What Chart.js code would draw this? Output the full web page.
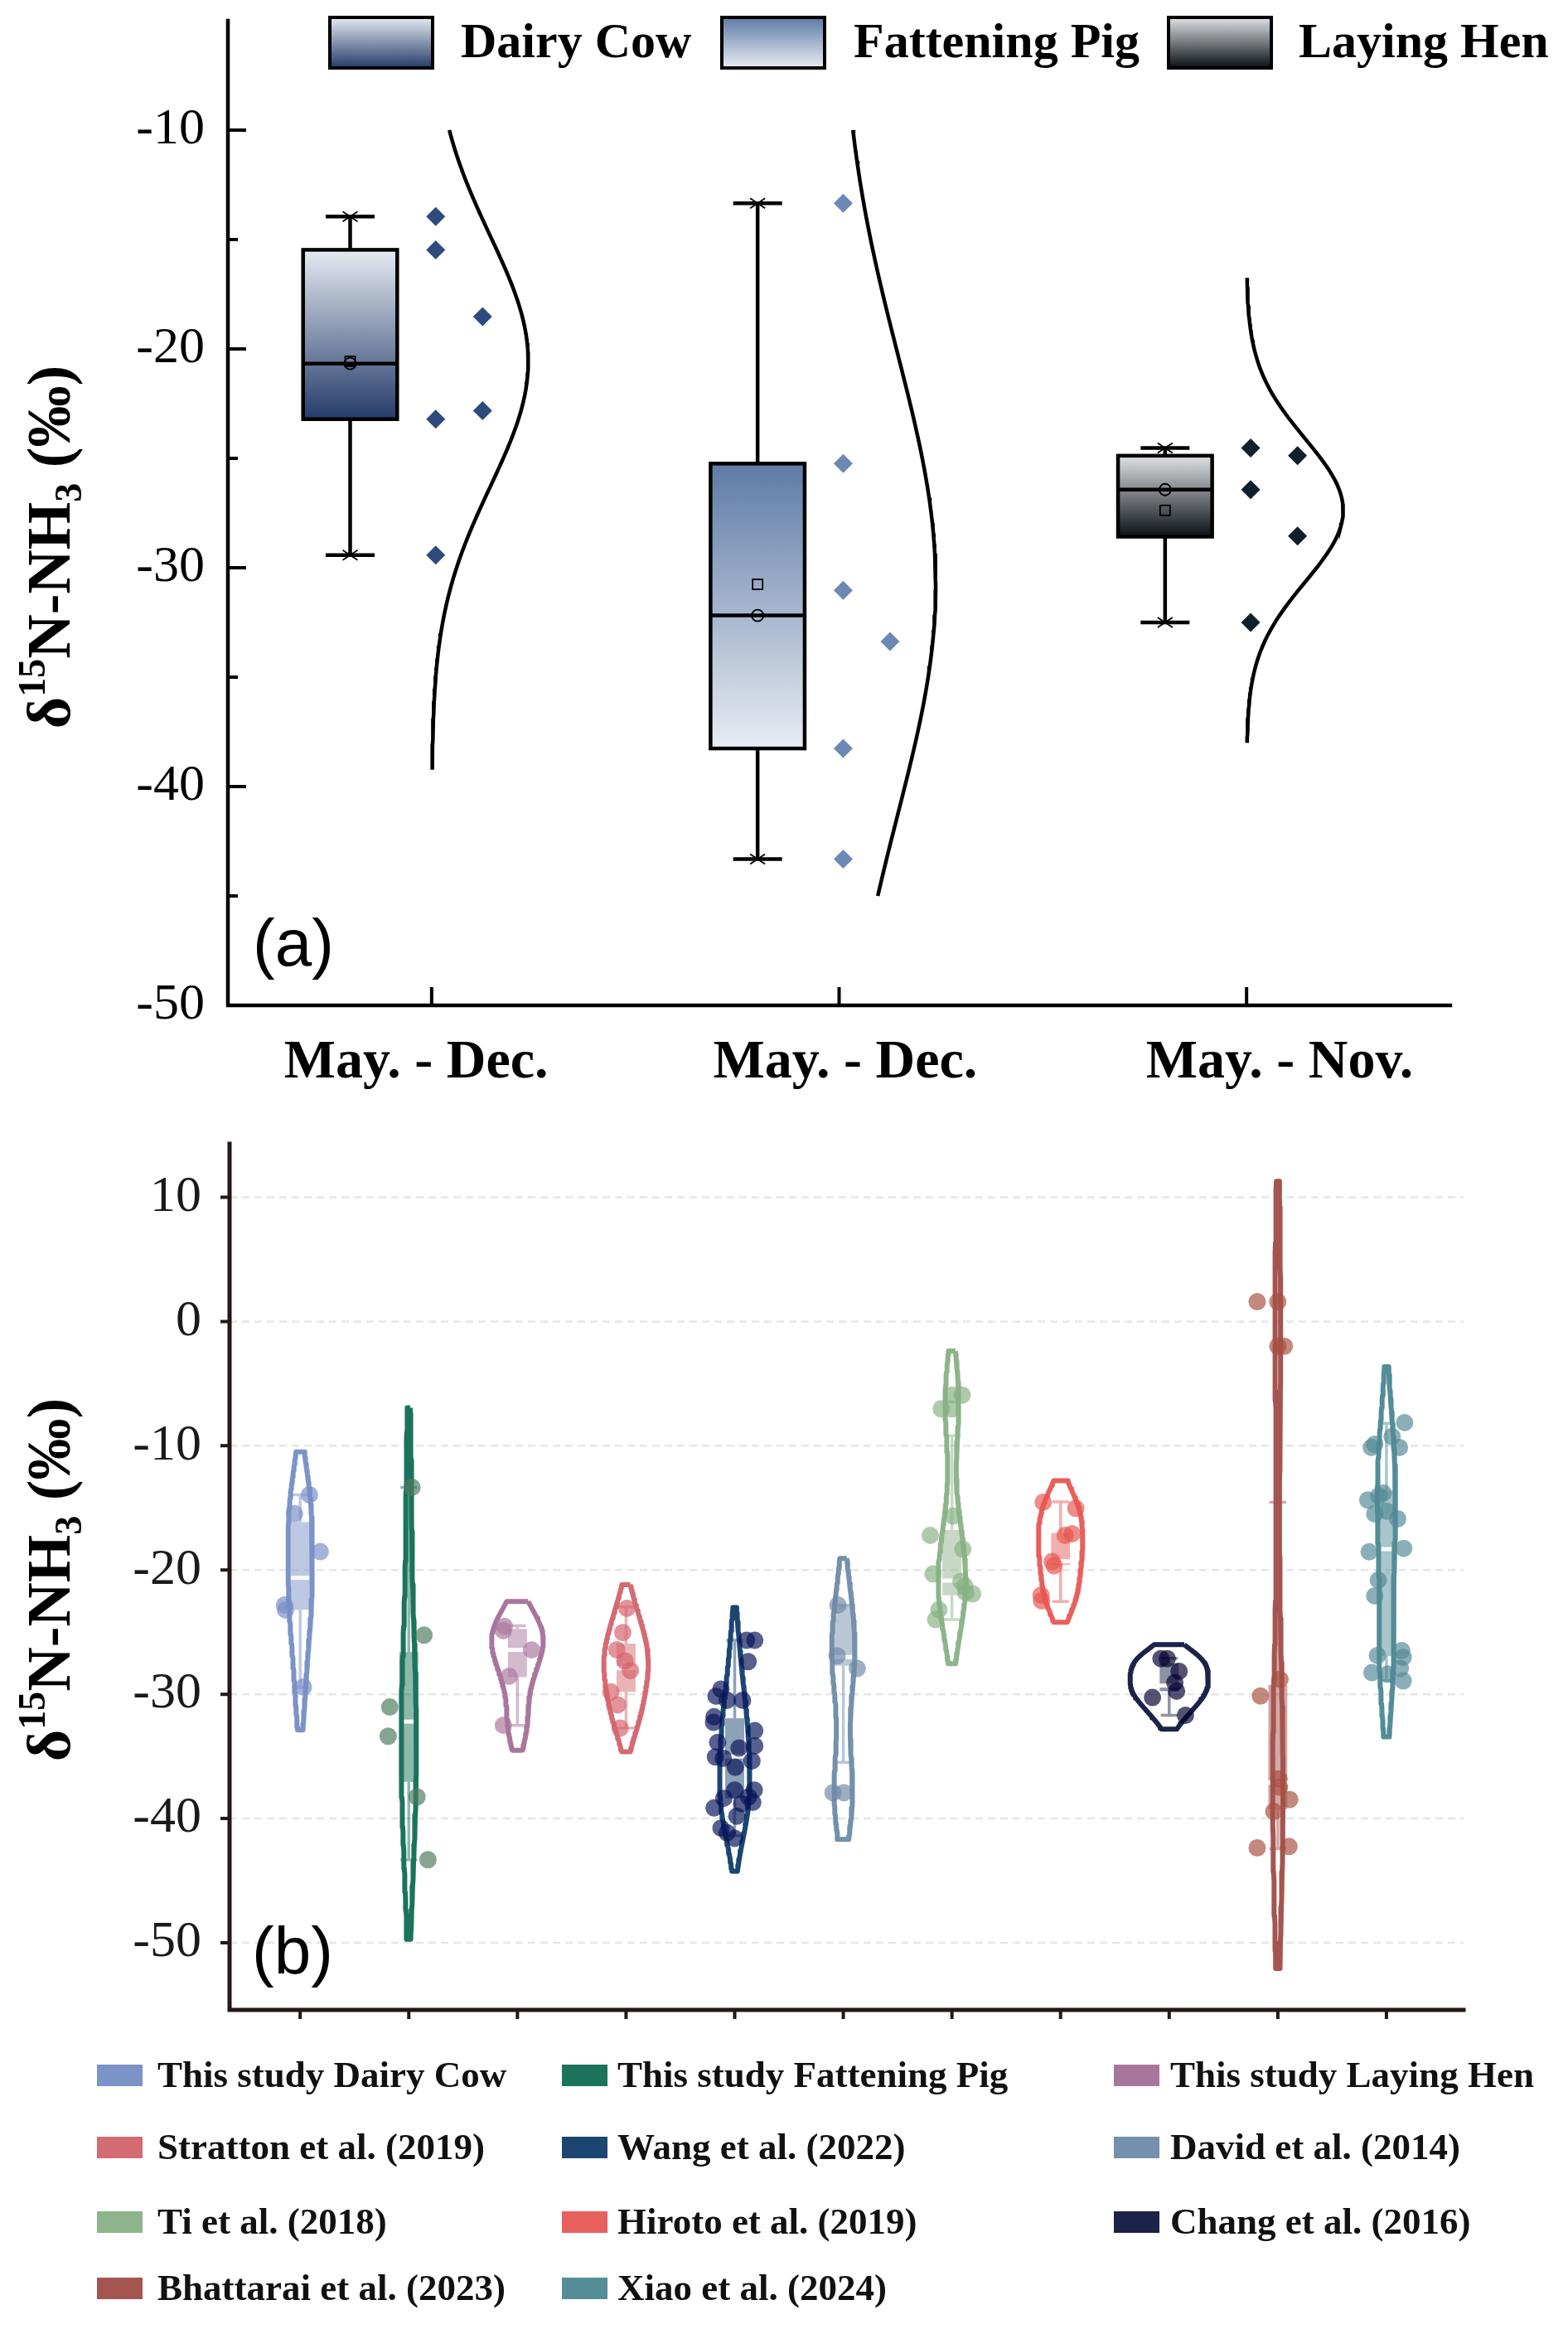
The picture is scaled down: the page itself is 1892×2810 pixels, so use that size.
<!DOCTYPE html>
<html>
<head>
<meta charset="utf-8">
<title>d15N-NH3</title>
<script src="https://cdn.jsdelivr.net/npm/chart.js@4.4.1/dist/chart.umd.min.js"></script>
<style>
  html, body { margin: 0; padding: 0; background: #ffffff; }
  #page { position: relative; width: 1892px; height: 2810px; overflow: hidden; background: #fff; }
  canvas { position: absolute; left: 0; }
  #panelA { top: 0; }
  #panelB { top: 1340px; }
</style>
</head>
<body>
<div id="page">
  <canvas id="panelA" width="1892" height="1340"></canvas>
  <canvas id="panelB" width="1892" height="1470"></canvas>
</div>
<script>
// ---------- panel (a) data ----------
const periodsA = ['May. - Dec.', 'May. - Dec.', 'May. - Nov.'];
const animalsA = ['Dairy Cow', 'Fattening Pig', 'Laying Hen'];
const yTicksA = [-50, -40, -30, -20, -10];
const yMinorA = [-45, -35, -25, -15];

const cowValues = [-13.95, -15.47, -18.52, -22.82, -23.21, -29.42];
const pigValues = [-13.34, -25.24, -31.03, -33.37, -38.26, -43.31];
const henValues = [-24.53, -24.88, -26.43, -28.55, -32.50];

// box stats [lower whisker, Q1, median, Q3, upper whisker]
const cowBoxA = [-29.42, -23.21, -20.67, -15.47, -13.95];
const pigBoxA = [-43.31, -38.26, -32.18, -25.24, -13.34];
const henBoxA = [-32.50, -28.58, -26.43, -24.88, -24.53];

// value span of the fitted normal curves [bottom, top]
const cowCurveSpan = [-39.23, -10.0];
const pigCurveSpan = [-45.0, -10.0];
const henCurveSpan = [-38.0, -16.75];

// ---------- panel (b) data ----------
const groupsB = ['This study Dairy Cow', 'This study Fattening Pig', 'This study Laying Hen',
  'Stratton et al. (2019)', 'Wang et al. (2022)', 'David et al. (2014)',
  'Ti et al. (2018)', 'Hiroto et al. (2019)', 'Chang et al. (2016)',
  'Bhattarai et al. (2023)', 'Xiao et al. (2024)'];
const yTicksB = [-50, -40, -30, -20, -10, 0, 10];

const strattonValues = [-23.09, -25.03, -26.42, -27.32, -28.1, -29.81, -30.85, -32.72];
const wangValues = [-25.66, -25.66, -27.37, -29.59, -30.15, -30.48, -30.48, -31.81, -32.26, -32.93,
  -33.88, -34.33, -34.15, -35.04, -35.15, -35.37, -35.88, -37.7, -37.7, -38.37,
  -38.26, -38.7, -39.15, -38.81, -39.81, -40.77, -41.15, -41.59];
const davidValues = [-22.81, -26.9, -27.92, -37.92, -37.92];
const tiValues = [-5.92, -5.92, -7.03, -7.03, -15.66, -17.21, -18.32, -20.32, -20.92, -21.3,
  -21.81, -21.92, -23.19, -23.99];
const hirotoValues = [-14.54, -15.03, -17.08, -17.21, -19.32, -19.66, -22.03, -22.48];
const changValues = [-27.13, -27.13, -28.15, -29.07, -29.75, -30.26, -31.69];
const bhattaraiValues = [1.59, 1.59, -1.99, -1.99, -28.8, -30.14, -36.8, -37.47, -38.47, -39.43, -42.36, -42.25];
const xiaoValues = [-8.14, -9.26, -9.88, -10.14, -10.14, -13.81, -14.03, -14.37, -15.26, -15.48,
  -15.88, -18.26, -18.54, -20.81, -22.08, -26.48, -26.88, -27.03, -27.92, -28.26, -28.37, -28.92];

// box stats [lower whisker, Q1, median, Q3, upper whisker]
const boxB = [
  [-29.45, -23.2, -20.63, -16.14, -13.95],
  [-43.32, -37.05, -32.2, -26.6, -13.34],
  [-32.5, -28.62, -26.43, -24.74, -24.48],
  [-32.72, -29.81, -27.9, -25.93, -22.96],
  [-41.37, -38.37, -35.0, -31.93, -25.66],
  [-35.48, -27.7, -27.0, -22.81, -22.81],
  [-23.99, -22.03, -20.85, -16.77, -9.19],
  [-22.54, -19.6, -19.3, -17.03, -14.52],
  [-31.69, -29.75, -29.3, -27.5, -27.1],
  [-42.43, -39.25, -37.1, -29.25, -14.54],
  [-28.9, -26.92, -18.32, -13.59, -8.19]
];
// kernel bandwidth of each violin
const bandwidthB = [3.45, 6.4, 2.0, 1.9, 2.65, 3.75, 3.55, 1.73, 1.12, 9.7, 4.5];

// ---------- layout / style ----------
const SERIF = '"Liberation Serif", "Times New Roman", serif';
const SANS = '"Liberation Sans", Arial, sans-serif';

const valuesA = [cowValues, pigValues, henValues];
const boxesA = [cowBoxA, pigBoxA, henBoxA];
const spansA = [cowCurveSpan, pigCurveSpan, henCurveSpan];
const pointColumnA = [[0, 0, 1, 1, 0, 0], [0, 0, 0, 1, 0, 0], [0, 1, 0, 1, 0]];
const PT_COLS_A = [0.01, 0.125];
const labelShiftA = [-0.038, 0.015, 0.081];   // category labels sit a little off their ticks
const BOX_SHIFT_A = -0.2, BOX_W_A = 0.231, CAP_W_A = 0.12, CURVE_AMP_A = 0.237;
const gradA = [['#e6eaf1', '#243c6a'], ['#5e7ba6', '#e9ecf3'], ['#e0e2e5', '#0a1015']];
const diamondA = ['#2e4b7d', '#6b89b4', '#0f1f2b'];
const legendSwatchXA = [398, 871, 1410];
const legendTextXA = [556, 1030, 1567];

const valuesB = [cowValues, pigValues, henValues, strattonValues, wangValues, davidValues,
  tiValues, hirotoValues, changValues, bhattaraiValues, xiaoValues];
const jitterB = [
  [0.085, -0.052, 0.185, -0.144, -0.135, 0.03],
  [0.03, 0.14, -0.175, -0.19, 0.076, 0.176],
  [-0.12, -0.13, 0.13, -0.076, -0.13],
  [0.008, -0.03, -0.085, -0.01, 0.04, -0.14, -0.077, -0.055],
  [0.11, 0.185, 0.124, -0.126, -0.172, -0.07, 0.072, -0.19, -0.195, 0.185, -0.157, 0.04, 0.185, -0.177,
    -0.105, 0.159, 0.006, 0.18, 0.0, -0.1, 0.128, 0.166, -0.19, 0.065, 0.02, -0.126, -0.07, 0.0],
  [-0.05, -0.057, 0.128, -0.095, 0.006],
  [0.0, 0.095, -0.098, 0.0, 0.01, -0.2, 0.1, -0.174, 0.083, 0.118, 0.126, 0.19, -0.12, -0.15],
  [-0.16, 0.14, 0.106, 0.042, -0.078, -0.06, -0.18, -0.175],
  [-0.076, -0.018, 0.091, 0.052, 0.068, -0.154, 0.15],
  [-0.19, 0.0, 0.0, 0.06, 0.02, -0.16, 0.01, 0.015, 0.11, -0.037, -0.19, 0.103],
  [0.167, 0.052, -0.108, -0.139, 0.12, -0.03, -0.07, -0.172, 0.0, -0.108, 0.103, 0.159, -0.159, -0.075,
    -0.108, 0.141, -0.083, 0.154, 0.128, -0.134, 0.011, 0.154]
];
const colorsB = ['#7b93c6', '#1c735c', '#a8769c', '#d46a72', '#1c4672', '#7490ac',
  '#8db48a', '#e8605c', '#1b2349', '#a5554f', '#528d98'];
const pointColorsB = ['#a3b2d9', '#85a593', '#c6a3bd', '#e3949a', '#57608e', '#9eafc4',
  '#aecaab', '#ef8c87', '#554d73', '#c3877e', '#8aafb8'];
const AXIS_B = '#231815';
const VIOLIN_HALF_MAX = 0.36, BOX_W_B = 0.175, CAP_W_B = 0.155, MED_W_B = 0.2;
const legendColXB = [117, 678, 1344], legendTextXB = [190, 745, 1412], legendRowYB = [1164, 1251, 1341, 1421];

// ---------- helpers ----------
const mean = a => a.reduce((s, v) => s + v, 0) / a.length;
const stdev = a => { const m = mean(a); return Math.sqrt(a.reduce((s, v) => s + (v - m) ** 2, 0) / (a.length - 1)); };
function rgba(hex, a) {
  const n = parseInt(hex.slice(1), 16);
  return `rgba(${n >> 16},${(n >> 8) & 255},${n & 255},${a})`;
}
// colour that looks like `hex` when painted with alpha `a` over white
function seenAs(hex, a) {
  const n = parseInt(hex.slice(1), 16);
  const f = c => Math.max(0, Math.round((c - (1 - a) * 255) / a));
  return `rgba(${f(n >> 16)},${f((n >> 8) & 255)},${f(n & 255)},${a})`;
}
function density(vals, bw, y) {
  let s = 0;
  for (const v of vals) { const u = (y - v) / bw; s += Math.exp(-0.5 * u * u); }
  return s / (vals.length * bw * Math.sqrt(2 * Math.PI));
}
function drawYTitle(ctx, cx, cy) {
  const parts = [['δ', 74, 0], ['15', 46, -30], ['N-NH', 74, 0], ['3', 46, 14], [' (‰)', 74, 0]];
  ctx.save();
  ctx.translate(cx, cy);
  ctx.rotate(-Math.PI / 2);
  ctx.fillStyle = '#000';
  ctx.textAlign = 'left';
  ctx.textBaseline = 'alphabetic';
  const w = parts.map(p => { ctx.font = `bold ${p[1]}px ${SERIF}`; return ctx.measureText(p[0]).width; });
  let xp = -w.reduce((s, v) => s + v, 0) / 2;
  parts.forEach((p, k) => {
    ctx.font = `bold ${p[1]}px ${SERIF}`;
    ctx.fillText(p[0], xp, 24 + p[2]);
    xp += w[k];
  });
  ctx.restore();
}

Chart.defaults.animation = false;

// ---------- panel (a) ----------
const datasetsA = [];
valuesA.forEach((vals, i) => {
  datasetsA.push({
    data: vals.map((v, k) => ({ x: i + PT_COLS_A[pointColumnA[i][k]], y: v })),
    pointStyle: 'rectRot', pointRadius: 11.5, backgroundColor: diamondA[i], borderWidth: 0, order: 1
  });
  const m = mean(vals), s = stdev(vals), span = spansA[i], pts = [];
  for (let k = 0; k <= 150; k++) {
    const yv = span[1] - (span[1] - span[0]) * k / 150;
    pts.push({ x: i + CURVE_AMP_A * Math.exp(-0.5 * ((yv - m) / s) ** 2), y: yv });
  }
  datasetsA.push({ data: pts, showLine: true, borderColor: '#000', borderWidth: 4.5, pointRadius: 0, fill: false, order: 2 });
});

const panelAPlugin = {
  id: 'panelAParts',
  beforeDatasetsDraw(chart) {
    const { ctx, scales: { x, y } } = chart;
    boxesA.forEach((b, i) => {
      const cx = x.getPixelForValue(i + BOX_SHIFT_A);
      const hw = x.getPixelForValue(i + BOX_SHIFT_A + BOX_W_A / 2) - cx;
      const cw = x.getPixelForValue(i + BOX_SHIFT_A + CAP_W_A / 2) - cx;
      const [pLo, pQ1, pMed, pQ3, pHi] = b.map(v => y.getPixelForValue(v));
      ctx.save();
      ctx.strokeStyle = '#000';
      ctx.lineWidth = 4.5;
      ctx.beginPath();
      ctx.moveTo(cx, pHi); ctx.lineTo(cx, pQ3);
      ctx.moveTo(cx, pQ1); ctx.lineTo(cx, pLo);
      ctx.moveTo(cx - cw, pHi); ctx.lineTo(cx + cw, pHi);
      ctx.moveTo(cx - cw, pLo); ctx.lineTo(cx + cw, pLo);
      ctx.stroke();
      const g = ctx.createLinearGradient(0, pQ3, 0, pQ1);
      g.addColorStop(0, gradA[i][0]);
      g.addColorStop(1, gradA[i][1]);
      ctx.fillStyle = g;
      ctx.fillRect(cx - hw, pQ3, 2 * hw, pQ1 - pQ3);
      ctx.strokeRect(cx - hw, pQ3, 2 * hw, pQ1 - pQ3);
      ctx.beginPath(); ctx.moveTo(cx - hw, pMed); ctx.lineTo(cx + hw, pMed); ctx.stroke();
      ctx.lineWidth = 1.8;
      [pHi, pLo].forEach(py => {
        ctx.beginPath();
        ctx.moveTo(cx - 9, py - 6); ctx.lineTo(cx + 9, py + 6);
        ctx.moveTo(cx - 9, py + 6); ctx.lineTo(cx + 9, py - 6);
        ctx.stroke();
      });
      const pMean = y.getPixelForValue(mean(valuesA[i]));
      ctx.strokeRect(cx - 6, pMean - 6, 12, 12);
      ctx.beginPath(); ctx.arc(cx, pMed, 7, 0, Math.PI * 2); ctx.stroke();
      ctx.restore();
    });
  },
  afterDraw(chart) {
    const { ctx, chartArea: ca, scales: { x, y } } = chart;
    ctx.save();
    ctx.strokeStyle = '#000';
    ctx.lineWidth = 4.5;
    ctx.lineCap = 'square';
    ctx.beginPath();
    ctx.moveTo(ca.left, ca.top); ctx.lineTo(ca.left, ca.bottom); ctx.lineTo(ca.right, ca.bottom);
    ctx.stroke();
    ctx.lineCap = 'butt';
    ctx.lineWidth = 4;
    ctx.beginPath();
    yTicksA.forEach(v => { const py = y.getPixelForValue(v); ctx.moveTo(ca.left, py); ctx.lineTo(ca.left + 22, py); });
    yMinorA.forEach(v => { const py = y.getPixelForValue(v); ctx.moveTo(ca.left, py); ctx.lineTo(ca.left + 12, py); });
    periodsA.forEach((_, i) => { const px = x.getPixelForValue(i); ctx.moveTo(px, ca.bottom); ctx.lineTo(px, ca.bottom - 22); });
    ctx.stroke();

    ctx.fillStyle = '#000';
    ctx.font = `80px ${SANS}`;
    ctx.textAlign = 'left';
    ctx.textBaseline = 'middle';
    ctx.fillText('(a)', ca.left + 30, ca.bottom - 70);

    drawYTitle(ctx, 60, 660);

    // legend with gradient swatches
    animalsA.forEach((name, i) => {
      const sx = legendSwatchXA[i], sy = 21, sw = 124, sh = 61;
      const g = ctx.createLinearGradient(0, sy, 0, sy + sh);
      g.addColorStop(0, gradA[i][0]);
      g.addColorStop(1, gradA[i][1]);
      ctx.fillStyle = g;
      ctx.fillRect(sx, sy, sw, sh);
      ctx.lineWidth = 4;
      ctx.strokeStyle = '#000';
      ctx.strokeRect(sx, sy, sw, sh);
      ctx.fillStyle = '#000';
      ctx.font = `bold 60px ${SERIF}`;
      ctx.textBaseline = 'middle';
      ctx.fillText(name, legendTextXA[i], sy + sh / 2 + 2);
    });
    ctx.restore();
  }
};

new Chart(document.getElementById('panelA'), {
  type: 'scatter',
  data: { datasets: datasetsA },
  plugins: [panelAPlugin],
  options: {
    responsive: false,
    devicePixelRatio: 1,
    events: [],
    layout: { padding: { top: 25, left: 0, right: 142, bottom: 0 } },
    plugins: { legend: { display: false }, tooltip: { enabled: false } },
    scales: {
      x: {
        type: 'linear', min: -0.5, max: 2.5,
        afterBuildTicks: s => { s.ticks = periodsA.map((_, i) => ({ value: i + labelShiftA[i] })); },
        afterFit: s => { s.height = 127; },
        grid: { display: false, drawTicks: false },
        border: { display: false },
        ticks: {
          autoSkip: false, maxRotation: 0, padding: 30, color: '#000',
          font: { family: SERIF, size: 66, weight: 'bold' },
          callback: v => periodsA[Math.round(v)]
        }
      },
      y: {
        type: 'linear', min: -50, max: -5,
        afterBuildTicks: s => { s.ticks = yTicksA.map(v => ({ value: v })).concat([{ value: -5 }]); },
        afterFit: s => { s.width = 275; },
        grid: { display: false, drawTicks: true, tickLength: 28 },
        border: { display: false },
        ticks: {
          padding: 0, color: '#000',
          font: { family: SERIF, size: 62, lineHeight: 0.7 },
          callback: v => (yTicksA.includes(v) ? String(v) : null)
        }
      }
    }
  }
});

// ---------- panel (b) ----------
const profilesB = valuesB.map((vals, i) => {
  const bw = bandwidthB[i];
  const lo = Math.min(...vals) - bw, hi = Math.max(...vals) + bw;
  const ys = [], ds = [];
  for (let k = 0; k <= 90; k++) {
    const yv = hi - (hi - lo) * k / 90;
    ys.push(yv);
    ds.push(density(vals, bw, yv));
  }
  return { ys, ds };
});
const maxDensity = Math.max(...profilesB.map(p => Math.max(...p.ds)));
const widthScale = VIOLIN_HALF_MAX / maxDensity;

const datasetsB = [];
profilesB.forEach((p, i) => {
  const right = p.ys.map((yv, k) => ({ x: i + p.ds[k] * widthScale, y: yv }));
  const left = p.ys.map((yv, k) => ({ x: i - p.ds[k] * widthScale, y: yv })).reverse();
  datasetsB.push({
    data: right.concat(left, [right[0]]), showLine: true, fill: false, pointRadius: 0,
    borderColor: colorsB[i], borderWidth: 6, borderJoinStyle: 'round', order: 2, clip: false
  });
});
valuesB.forEach((vals, i) => {
  datasetsB.push({
    data: vals.map((v, k) => ({ x: i + jitterB[i][k], y: v })),
    pointRadius: 10.5, pointStyle: 'circle', borderWidth: 0,
    backgroundColor: seenAs(pointColorsB[i], 0.68), order: 1, clip: false
  });
});

const panelBPlugin = {
  id: 'panelBParts',
  beforeDatasetsDraw(chart) {
    const { ctx, chartArea: ca, scales: { x, y } } = chart;
    ctx.save();
    // dashed grid
    ctx.strokeStyle = '#e6e6e6';
    ctx.lineWidth = 2.5;
    ctx.setLineDash([9, 6]);
    ctx.beginPath();
    yTicksB.forEach(v => { const py = y.getPixelForValue(v); ctx.moveTo(ca.left, py); ctx.lineTo(ca.right, py); });
    ctx.stroke();
    ctx.setLineDash([]);
    // boxes
    boxB.forEach((b, i) => {
      const cx = x.getPixelForValue(i);
      const hw = x.getPixelForValue(i + BOX_W_B / 2) - cx;
      const cw = x.getPixelForValue(i + CAP_W_B / 2) - cx;
      const mw = x.getPixelForValue(i + MED_W_B / 2) - cx;
      const [pLo, pQ1, pMed, pQ3, pHi] = b.map(v => y.getPixelForValue(v));
      ctx.strokeStyle = rgba(colorsB[i], 0.5);
      ctx.lineWidth = 3.5;
      ctx.beginPath();
      ctx.moveTo(cx, pHi); ctx.lineTo(cx, pQ3);
      ctx.moveTo(cx, pQ1); ctx.lineTo(cx, pLo);
      ctx.moveTo(cx - cw, pHi); ctx.lineTo(cx + cw, pHi);
      ctx.moveTo(cx - cw, pLo); ctx.lineTo(cx + cw, pLo);
      ctx.stroke();
      ctx.fillStyle = rgba(colorsB[i], 0.5);
      ctx.fillRect(cx - hw, pQ3, 2 * hw, pQ1 - pQ3);
      ctx.fillStyle = 'rgba(255,255,255,0.95)';
      ctx.fillRect(cx - mw, pMed - 2.5, 2 * mw, 5);
    });
    ctx.restore();
  },
  afterDraw(chart) {
    const { ctx, chartArea: ca, scales: { x, y } } = chart;
    ctx.save();
    ctx.strokeStyle = AXIS_B;
    ctx.lineWidth = 5;
    ctx.lineCap = 'square';
    ctx.beginPath();
    ctx.moveTo(ca.left, ca.top); ctx.lineTo(ca.left, ca.bottom); ctx.lineTo(ca.right, ca.bottom);
    ctx.stroke();
    ctx.lineCap = 'butt';
    ctx.lineWidth = 4;
    ctx.beginPath();
    yTicksB.forEach(v => { const py = y.getPixelForValue(v); ctx.moveTo(ca.left, py); ctx.lineTo(ca.left - 11, py); });
    groupsB.forEach((_, i) => { const px = x.getPixelForValue(i); ctx.moveTo(px, ca.bottom); ctx.lineTo(px, ca.bottom + 11); });
    ctx.stroke();

    ctx.fillStyle = '#000';
    ctx.font = `80px ${SANS}`;
    ctx.textAlign = 'left';
    ctx.textBaseline = 'middle';
    ctx.fillText('(b)', ca.left + 27, ca.bottom - 66);

    drawYTitle(ctx, 60, 566);

    groupsB.forEach((name, i) => {
      const c = i % 3, r = Math.floor(i / 3);
      const sy = legendRowYB[r];
      ctx.fillStyle = colorsB[i];
      ctx.fillRect(legendColXB[c], sy - 13, 55, 26);
      ctx.fillStyle = '#111';
      ctx.font = `bold 45px ${SERIF}`;
      ctx.textBaseline = 'middle';
      ctx.fillText(name, legendTextXB[c], sy + 2);
    });
    ctx.restore();
  }
};

new Chart(document.getElementById('panelB'), {
  type: 'scatter',
  data: { datasets: datasetsB },
  plugins: [panelBPlugin],
  options: {
    responsive: false,
    devicePixelRatio: 1,
    events: [],
    layout: { padding: { top: 40, left: 0, right: 126, bottom: 0 } },
    plugins: { legend: { display: false }, tooltip: { enabled: false } },
    scales: {
      x: {
        type: 'linear', min: -0.65, max: 10.71,
        afterFit: s => { s.height = 385; },
        grid: { display: false, drawTicks: false },
        border: { display: false },
        ticks: { display: false }
      },
      y: {
        type: 'linear', min: -55.4, max: 14.3,
        afterBuildTicks: s => { s.ticks = yTicksB.map(v => ({ value: v })).concat([{ value: 14.3 }]); },
        afterFit: s => { s.width = 277; },
        grid: { display: false, drawTicks: true, tickLength: 34 },
        border: { display: false },
        ticks: {
          padding: 0, color: '#1a1a1a',
          font: { family: SERIF, size: 62, lineHeight: 0.7 },
          callback: v => (yTicksB.includes(v) ? String(v) : null)
        }
      }
    }
  }
});
</script>
</body>
</html>
